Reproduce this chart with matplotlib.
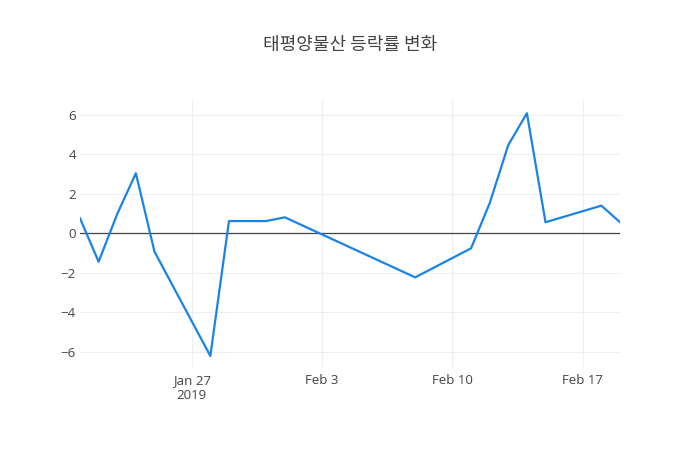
import matplotlib

matplotlib.use("Agg")

import matplotlib.pyplot as plt
import pandas as pd

plt.rcParams["font.family"] = ["Open Sans", "Noto Sans CJK KR", "DejaVu Sans"]

dates = [
    "2019-01-21", "2019-01-22", "2019-01-23", "2019-01-24", "2019-01-25",
    "2019-01-28", "2019-01-29", "2019-01-31", "2019-02-01", "2019-02-08",
    "2019-02-11", "2019-02-12", "2019-02-13", "2019-02-14", "2019-02-15",
    "2019-02-18", "2019-02-19",
]
changes = [
    0.76, -1.44, 0.98, 3.04, -0.93,
    -6.21, 0.62, 0.62, 0.81, -2.23,
    -0.76, 1.52, 4.47, 6.08, 0.56,
    1.40, 0.56,
]
tick_dates = ["2019-01-27", "2019-02-03", "2019-02-10", "2019-02-17"]
tick_labels = ["Jan 27\n2019", "Feb 3", "Feb 10", "Feb 17"]
y_ticks = [-6, -4, -2, 0, 2, 4, 6]
y_labels = ["\u22126", "\u22124", "\u22122", "0", "2", "4", "6"]

x = pd.to_datetime(dates)

fig = plt.figure(figsize=(7, 4.5), dpi=100)
ax = fig.add_axes([80 / 700, 1 - 367 / 450, 540 / 700, 267 / 450])

ax.plot(x, changes, color="#1a84e6", linewidth=1.6, zorder=3)
ax.axhline(0, color="#444444", linewidth=0.9, zorder=2)

ax.set_xlim(x[0], x[-1])
ax.set_ylim(-6.77, 6.75)
ax.set_xticks(pd.to_datetime(tick_dates))
ax.set_xticklabels(tick_labels)
ax.set_yticks(y_ticks)
ax.set_yticklabels(y_labels)

ax.grid(True, color="#eeeeee", linewidth=0.8, zorder=1)
for spine in ax.spines.values():
    spine.set_visible(False)
ax.tick_params(length=0, colors="#444444", labelsize=9.5)
ax.tick_params(axis="y", pad=3)
ax.tick_params(axis="x", pad=5)
for lbl in ax.get_xticklabels():
    lbl.set_linespacing(1.25)

fig.text(0.5, 1 - 45 / 450, "태평양물산 등락률 변화", ha="center", va="center",
         fontsize=13, color="#444444", family=["Noto Sans CJK KR", "DejaVu Sans"])

fig.savefig("out.png", dpi=100)
plt.close(fig)
